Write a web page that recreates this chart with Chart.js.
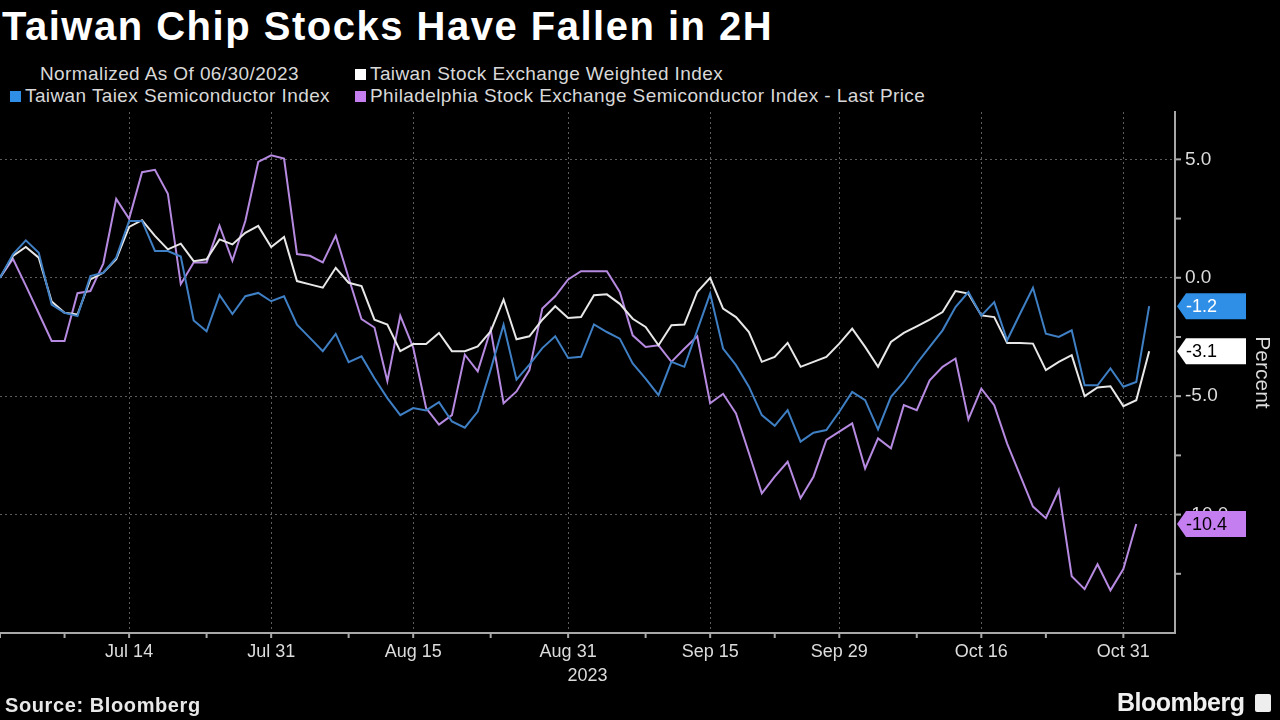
<!DOCTYPE html>
<html>
<head>
<meta charset="utf-8">
<script src="https://cdn.jsdelivr.net/npm/chart.js@4"></script>
<style>
  html, body { margin: 0; padding: 0; background: #000; }
  #wrap { position: relative; width: 1280px; height: 720px; background: #000; overflow: hidden;
          font-family: "Liberation Sans", Arial, sans-serif; }
  #title { position: absolute; left: 2px; top: 4px; color: #fff; font-weight: bold; font-size: 40px;
           letter-spacing: 1.5px; white-space: nowrap; }
  .leg { position: absolute; color: #d8d8d8; font-size: 19px; letter-spacing: 0.4px; white-space: nowrap; line-height: 20px; }
  .box { display: inline-block; width: 11px; height: 11px; margin-right: 4px; vertical-align: 0px; }
  #src { position: absolute; left: 5px; top: 694px; color: #e8e8e8; font-weight: bold; font-size: 20px; letter-spacing: 0.6px; }
  #logo { position: absolute; left: 1117px; top: 688px; color: #f0f0f0; font-weight: bold; font-size: 25px; letter-spacing: -0.5px; }
  #icon { position: absolute; left: 1255px; top: 694px; width: 16px; height: 18px; background: #eee; border-radius: 2px; }
  #chart { position: absolute; left: 0; top: 0; }
</style>
</head>
<body>
<div id="wrap">
  <div id="title">Taiwan Chip Stocks Have Fallen in 2H</div>
  <div class="leg" style="left:40px; top:64px;">Normalized As Of 06/30/2023</div>
  <div class="leg" style="left:355px; top:64px;"><span class="box" style="background:#ffffff"></span>Taiwan Stock Exchange Weighted Index</div>
  <div class="leg" style="left:10px; top:86px;"><span class="box" style="background:#2f8ee5"></span>Taiwan Taiex Semiconductor Index</div>
  <div class="leg" style="left:355px; top:86px;"><span class="box" style="background:#c57ef0"></span>Philadelphia Stock Exchange Semiconductor Index - Last Price</div>
  <canvas id="chart" width="1280" height="720"></canvas>
  <div id="src">Source: Bloomberg</div>
  <div id="logo">Bloomberg</div>
  <div id="icon"></div>
</div>
<script>
// trading days from Jun 30 2023 (weekdays), two spare slots at the end of the axis
const months = ['Jan','Feb','Mar','Apr','May','Jun','Jul','Aug','Sep','Oct','Nov','Dec'];
const dates = [];
for (let d = new Date(2023, 5, 30); dates.length < 92; d.setDate(d.getDate() + 1)) {
  if (d.getDay() !== 0 && d.getDay() !== 6) dates.push(months[d.getMonth()] + ' ' + d.getDate());
}

const tickDates = ['Jul 14', 'Jul 31', 'Aug 15', 'Aug 31', 'Sep 15', 'Sep 29', 'Oct 16', 'Oct 31'];
const minorTickDates = ['Jun 30', 'Jul 7', 'Jul 24', 'Aug 8', 'Aug 23', 'Sep 8', 'Sep 22', 'Oct 9', 'Oct 23'];
const yTickLabels = [5, 0, -5, -10];

// Taiwan Stock Exchange Weighted Index
const taiex = [0, 0.92, 1.3, 0.85, -1.0, -1.48, -1.55, -0.07, 0.21, 0.78,
  2.15, 2.43, 1.77, 1.2, 1.44, 0.7, 0.78, 1.62, 1.41, 1.9,
  2.19, 1.3, 1.72, -0.14, -0.28, -0.42, 0.42, -0.21, -0.35, -1.77,
  -1.98, -3.1, -2.8, -2.8, -2.33, -3.1, -3.1, -2.9, -2.26, -0.92,
  -2.6, -2.47, -1.77, -1.2, -1.7, -1.66, -0.74, -0.7, -1.1, -1.73,
  -2.08, -2.85, -2.0, -1.97, -0.6, 0.0, -1.3, -1.66, -2.29, -3.55,
  -3.34, -2.75, -3.76, -3.55, -3.34, -2.78, -2.15, -2.92, -3.76, -2.71,
  -2.33, -2.05, -1.77, -1.45, -0.56, -0.67, -1.59, -1.66, -2.75, -2.75,
  -2.78, -3.9, -3.55, -3.27, -5.0, -4.63, -4.58, -5.42, -5.17, -3.1];

// Taiwan Taiex Semiconductor Index
const semis = [0, 0.99, 1.58, 1.06, -1.13, -1.48, -1.62, 0.07, 0.21, 0.85,
  2.4, 2.4, 1.13, 1.13, 0.9, -1.8, -2.26, -0.73, -1.53, -0.78,
  -0.64, -0.99, -0.78, -1.98, -2.54, -3.1, -2.37, -3.56, -3.32, -4.24,
  -5.08, -5.8, -5.5, -5.6, -5.25, -6.07, -6.33, -5.65, -3.88, -1.98,
  -4.3, -3.67, -2.97, -2.47, -3.39, -3.34, -1.97, -2.29, -2.57, -3.62,
  -4.26, -4.96, -3.55, -3.76, -2.22, -0.67, -2.99, -3.69, -4.6, -5.8,
  -6.25, -5.59, -6.92, -6.54, -6.43, -5.66, -4.82, -5.17, -6.4, -5.03,
  -4.4, -3.62, -2.92, -2.22, -1.24, -0.6, -1.6, -1.03, -2.64, -1.52,
  -0.42, -2.36, -2.5, -2.22, -4.54, -4.54, -3.83, -4.6, -4.4, -1.2];

// Philadelphia Stock Exchange Semiconductor Index
const sox = [0, 0.8, -0.33, -1.5, -2.67, -2.67, -0.65, -0.56, 0.6, 3.33,
  2.49, 4.46, 4.56, 3.55, -0.27, 0.65, 0.65, 2.2, 0.72, 2.4,
  4.89, 5.17, 5.03, 1.0, 0.93, 0.65, 1.78, 0.0, -1.75, -2.1,
  -4.36, -1.6, -2.95, -5.5, -6.2, -5.8, -3.25, -3.95, -2.19, -5.3,
  -4.8, -3.9, -1.3, -0.78, -0.07, 0.28, 0.28, 0.28, -0.6, -2.43,
  -2.92, -2.85, -3.55, -3.0, -2.47, -5.3, -4.9, -5.73, -7.4, -9.1,
  -8.4, -7.77, -9.31, -8.4, -6.85, -6.5, -6.15, -8.05, -6.78, -7.2,
  -5.38, -5.59, -4.33, -3.76, -3.41, -5.98, -4.68, -5.38, -7.0, -8.33,
  -9.66, -10.15, -8.96, -12.6, -13.15, -12.1, -13.2, -12.3, -10.4, null];

const textColor = '#dcdcdc';
const gridColor = '#5c5c5c';
const axisColor = '#a8a8a8';

function lastValue(arr) {
  for (let i = arr.length - 1; i >= 0; i--) if (arr[i] !== null) return arr[i];
}

const tags = [
  { value: lastValue(semis), bg: '#2f8ee5', fg: '#ffffff' },
  { value: lastValue(taiex), bg: '#ffffff', fg: '#000000' },
  { value: lastValue(sox), bg: '#c57ef0', fg: '#000000' },
];

const extras = {
  id: 'extras',
  afterDraw(chart) {
    const { ctx, chartArea: a, scales: { x, y } } = chart;
    ctx.save();
    ctx.strokeStyle = axisColor;
    ctx.lineWidth = 2;
    dates.forEach((d, i) => {
      if (!tickDates.includes(d) && !minorTickDates.includes(d)) return;
      const px = x.getPixelForValue(i);
      ctx.beginPath(); ctx.moveTo(px, a.bottom); ctx.lineTo(px, a.bottom + 5); ctx.stroke();
    });
    y.ticks.forEach(t => {
      if (t.value % 2.5 !== 0 || t.value === -15) return;
      const py = y.getPixelForValue(t.value);
      ctx.beginPath(); ctx.moveTo(a.right, py); ctx.lineTo(a.right + 6, py); ctx.stroke();
    });
    ctx.font = '18px "Liberation Sans", Arial, sans-serif';
    ctx.textBaseline = 'middle';
    ctx.textAlign = 'left';
    tags.forEach(t => {
      const py = y.getPixelForValue(t.value);
      const x0 = a.right + 2, x1 = a.right + 11, x2 = a.right + 71, h = 13;
      ctx.fillStyle = t.bg;
      ctx.beginPath();
      ctx.moveTo(x0, py); ctx.lineTo(x1, py - h); ctx.lineTo(x2, py - h);
      ctx.lineTo(x2, py + h); ctx.lineTo(x1, py + h); ctx.closePath();
      ctx.fill();
      ctx.fillStyle = t.fg;
      ctx.fillText(t.value.toFixed(1), x1, py + 1);
    });
    ctx.restore();
  }
};

const line = (data, color) => ({
  data: data, borderColor: color, borderWidth: 2, pointRadius: 0, tension: 0, fill: false, spanGaps: false
});

new Chart(document.getElementById('chart'), {
  type: 'line',
  data: {
    labels: dates,
    datasets: [
      line(semis, '#3f7fc4'),
      line(taiex, '#e8e8e8'),
      line(sox, '#b68ae0'),
    ]
  },
  options: {
    responsive: false,
    animation: false,
    layout: { padding: { top: 112, bottom: 27, left: 0, right: 0 } },
    plugins: { legend: { display: false }, tooltip: { enabled: false } },
    scales: {
      x: {
        offset: false,
        grid: {
          color: c => (c.tick && tickDates.includes(dates[c.index])) ? gridColor : 'transparent',
          drawTicks: false
        },
        border: { color: axisColor, width: 2, dash: [2, 3] },
        ticks: {
          autoSkip: false, maxRotation: 0, color: textColor, padding: 8,
          font: { family: '"Liberation Sans", Arial, sans-serif', size: 18 },
          callback: (v, i) => tickDates.includes(dates[i]) ? dates[i] : ''
        },
        title: {
          display: true, text: '2023', color: textColor, padding: { top: 0, bottom: 6 },
          font: { family: '"Liberation Sans", Arial, sans-serif', size: 18 }
        },
        afterFit: s => { s.height = 60; s.paddingLeft = 0; s.paddingRight = 0; }
      },
      y: {
        position: 'right', min: -15, max: 7,
        grid: {
          color: c => (c.tick && yTickLabels.includes(c.tick.value)) ? gridColor : 'transparent',
          drawTicks: false
        },
        border: { color: axisColor, width: 2, dash: [2, 3] },
        ticks: {
          stepSize: 2.5, color: textColor, padding: 10,
          font: { family: '"Liberation Sans", Arial, sans-serif', size: 19 },
          callback: v => yTickLabels.includes(v) ? v.toFixed(1) : ''
        },
        title: {
          display: true, text: 'Percent', color: textColor, padding: { top: 6 },
          font: { family: '"Liberation Sans", Arial, sans-serif', size: 21 }
        },
        afterFit: s => { s.width = 105; }
      }
    }
  },
  plugins: [extras]
});
</script>
</body>
</html>
